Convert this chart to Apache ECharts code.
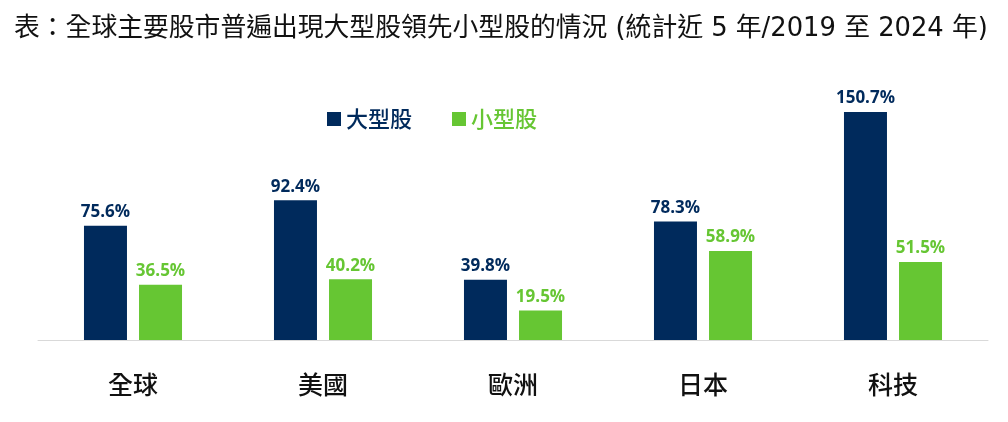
<!DOCTYPE html>
<html>
<head>
<meta charset="utf-8">
<script src="https://cdn.jsdelivr.net/npm/echarts@6/dist/echarts.min.js"></script>
<style>
  html, body { margin: 0; padding: 0; background: #fff; }
  #chart { width: 1008px; height: 422px; }
</style>
</head>
<body>
<div id="chart"></div>
<script>
// 分類與數值（%）
const categories = ["全球", "美國", "歐洲", "日本", "科技"];
const largeCap = [75.6, 92.4, 39.8, 78.3, 150.7];
const smallCap = [36.5, 40.2, 19.5, 58.9, 51.5];

const navy = "#002a5c";
const green = "#66c633";

let myChart = echarts.init(document.getElementById("chart"));

myChart.setOption({
  animation: false,
  title: {
    text: "表：全球主要股市普遍出現大型股領先小型股的情況 (統計近 5 年/2019 至 2024 年)",
    left: 9,
    top: 11,
    textStyle: {
      fontFamily: "'DejaVu Sans', 'Noto Sans CJK TC'",
      fontSize: 25.8,
      fontWeight: "normal",
      color: "#111",
    },
  },
  legend: {
    data: ["大型股", "小型股"],
    left: 322,
    top: 103,
    icon: "rect",
    itemWidth: 14,
    itemHeight: 14,
    itemGap: 40,
    textStyle: {
      fontFamily: "Noto Sans CJK TC",
      fontSize: 22,
      fontWeight: 500,
      color: "inherit",
    },
  },
  grid: {
    left: 38,
    right: 20,
    top: 98,
    bottom: 82,
  },
  xAxis: {
    type: "category",
    data: categories,
    axisTick: { show: false },
    axisLine: { lineStyle: { color: "#d9d9d9", width: 1 } },
    axisLabel: {
      margin: 32,
      fontFamily: "Noto Sans CJK TC",
      fontSize: 25,
      fontWeight: 500,
      color: "#111",
    },
  },
  yAxis: {
    type: "value",
    min: 0,
    max: 160,
    show: false,
    splitLine: { show: false },
  },
  series: [
    {
      name: "大型股",
      type: "bar",
      data: largeCap,
      barWidth: 43,
      barGap: "28%",
      itemStyle: { color: navy },
      label: {
        show: true,
        position: "top",
        distance: 5,
        formatter: "{c}%",
        fontFamily: "Open Sans",
        fontSize: 17,
        fontWeight: "bold",
        color: navy,
      },
    },
    {
      name: "小型股",
      type: "bar",
      data: smallCap,
      barWidth: 43,
      itemStyle: { color: green },
      label: {
        show: true,
        position: "top",
        distance: 5,
        formatter: "{c}%",
        fontFamily: "Open Sans",
        fontSize: 17,
        fontWeight: "bold",
        color: green,
      },
    },
  ],
});
</script>
</body>
</html>
